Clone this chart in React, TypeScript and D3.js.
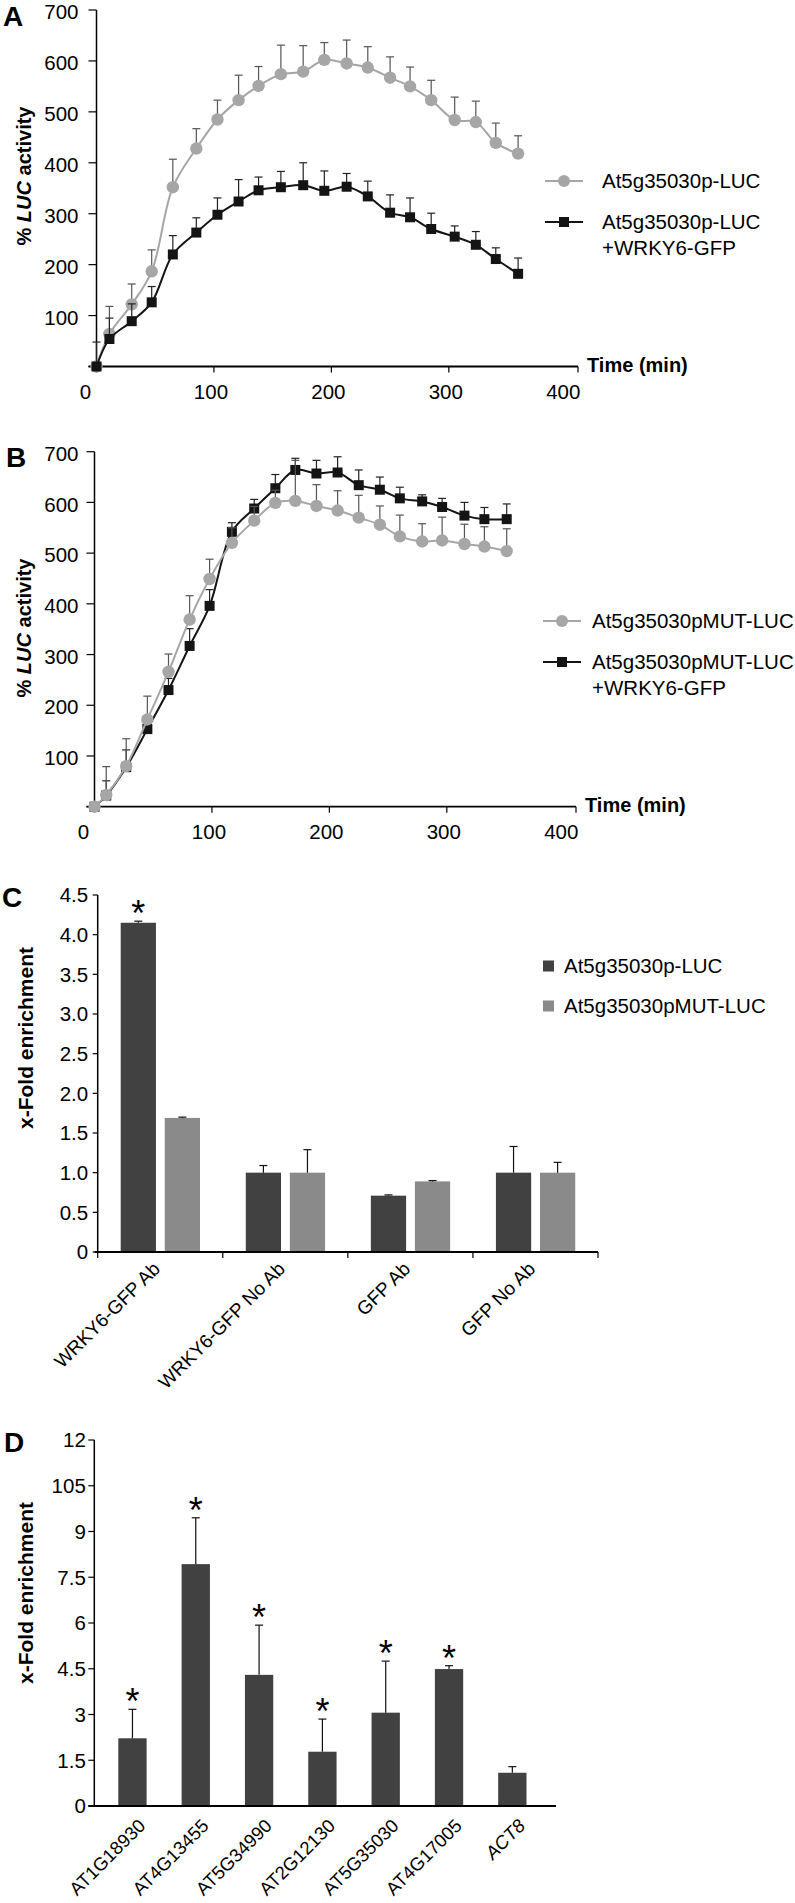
import React from 'react';
import * as d3 from 'd3';

const FONT = "'Liberation Sans', Arial, sans-serif";

// ---------- Panel A data ----------
const timesA = [0, 11, 30, 47, 65, 85, 103, 121, 138, 157, 176, 194, 213, 231, 250, 267, 285, 305, 323, 340, 359];
const wtA = [0, 64, 122, 187, 352, 428, 485, 523, 551, 574, 579, 602, 595, 587, 567, 550, 523, 484, 480, 439, 418];
const wtAerr = [0, 54, 40, 42, 55, 39, 38, 49, 38, 57, 51, 34, 46, 41, 41, 38, 39, 45, 41, 39, 35];
const wrkyA = [0, 54, 89, 126, 220, 263, 298, 324, 346, 352, 356, 345, 353, 334, 302, 293, 270, 255, 239, 211, 182];
const wrkyAerr = [48, 41, 34, 31, 37, 29, 33, 43, 26, 31, 44, 39, 26, 30, 35, 38, 31, 21, 26, 22, 31];

// ---------- Panel B data ----------
const timesB = [0, 10, 27, 45, 63, 81, 98, 117, 136, 154, 171, 189, 207, 225, 243, 260, 279, 296, 315, 332, 351];
const mutB = [0, 23, 80, 172, 266, 369, 449, 520, 564, 599, 603, 593, 584, 570, 556, 533, 523, 525, 518, 513, 504];
const mutBerr = [0, 56, 54, 46, 35, 47, 39, 30, 28, 25, 80, 42, 39, 44, 37, 42, 35, 46, 39, 39, 44];
const wrkyB = [0, 22, 78, 153, 230, 317, 396, 542, 588, 628, 664, 657, 659, 634, 625, 608, 602, 591, 574, 567, 567];
const wrkyBerr = [0, 29, 34, 22, 23, 34, 32, 18, 18, 27, 23, 26, 31, 30, 25, 22, 13, 17, 26, 23, 30];

const timeTicks = [0, 100, 200, 300, 400];
const lucTicks = [0, 100, 200, 300, 400, 500, 600, 700];

// ---------- Panel C data ----------
const groupsC = ['WRKY6-GFP Ab', 'WRKY6-GFP No Ab', 'GFP Ab', 'GFP No Ab'];
const seriesC = ['At5g35030p-LUC', 'At5g35030pMUT-LUC'];
const wtC = [4.15, 1.0, 0.71, 1.0];
const wtCerr = [0.02, 0.09, 0.01, 0.33];
const mutC = [1.69, 1.0, 0.89, 1.0];
const mutCerr = [0.01, 0.29, 0.01, 0.13];
const sigC = [true, false, false, false];
const ticksC = [0, 0.5, 1, 1.5, 2, 2.5, 3, 3.5, 4, 4.5];

// ---------- Panel D data ----------
const genesD = ['AT1G18930', 'AT4G13455', 'AT5G34990', 'AT2G12130', 'AT5G35030', 'AT4G17005', 'ACT8'];
const valuesD = [2.22, 7.93, 4.3, 1.78, 3.06, 4.49, 1.09];
const errD = [0.95, 1.52, 1.63, 1.07, 1.69, 0.11, 0.2];
const sigD = [true, true, true, true, true, true, false];
const ticksD = [0, 1.5, 3, 4.5, 6, 7.5, 9, 10.5, 12];
const tickLabelsD = ['0', '1.5', '3', '4.5', '6', '7.5', '9', '105', '12'];

const GRAY = '#a6a6a6';
const BLACK = '#141414';
const DARKBAR = '#414141';
const LIGHTBAR = '#8a8a8a';

type Series = { times: number[]; vals: number[]; errs: number[]; kind: 'circle' | 'square' };

function ErrorBars({ s, x, y, color }: { s: Series; x: any; y: any; color: string }) {
  return (
    <g stroke={color} strokeWidth={1.2}>
      {s.vals.map((v, i) =>
        s.errs[i] > 0 ? (
          <g key={i}>
            <line x1={x(s.times[i])} x2={x(s.times[i])} y1={y(v)} y2={y(v + s.errs[i])} />
            <line x1={x(s.times[i]) - 4} x2={x(s.times[i]) + 4} y1={y(v + s.errs[i])} y2={y(v + s.errs[i])} />
          </g>
        ) : null
      )}
    </g>
  );
}

function SeriesLine({ s, x, y, color }: { s: Series; x: any; y: any; color: string }) {
  const pts = s.vals.map((v, i) => [x(s.times[i]), y(v)] as [number, number]);
  const path = d3.line().curve(d3.curveCatmullRom.alpha(0.5))(pts) || '';
  return (
    <g>
      <path d={path} fill="none" stroke={color} strokeWidth={2} />
      {pts.map((p, i) =>
        s.kind === 'circle' ? (
          <circle key={i} cx={p[0]} cy={p[1]} r={6.2} fill={color} />
        ) : (
          <rect key={i} x={p[0] - 5} y={p[1] - 5} width={10} height={10} fill={color} />
        )
      )}
    </g>
  );
}

function LinePanel(props: {
  letter: string;
  letterPos: [number, number];
  xRange: [number, number];
  yRange: [number, number];
  gray: Series;
  black: Series;
  grayOnTop: boolean;
  legendGray: string;
  legendBlack: string[];
  legendX: number;
  legendTextX: number;
  legendGrayY: number;
  legendBlackY: number;
  yLabelCY: number;
  tickLabelGap: number;
}) {
  const { xRange, yRange } = props;
  const x = d3.scaleLinear().domain([0, 410]).range(xRange);
  const y = d3.scaleLinear().domain([0, 700]).range(yRange);
  const x0 = x(0);
  const y0 = y(0);
  const grayLayer = (
    <g key="g">
      <ErrorBars s={props.gray} x={x} y={y} color="#555" />
      <SeriesLine s={props.gray} x={x} y={y} color={GRAY} />
    </g>
  );
  const blackLayer = (
    <g key="b">
      <ErrorBars s={props.black} x={x} y={y} color="#222" />
      <SeriesLine s={props.black} x={x} y={y} color={BLACK} />
    </g>
  );
  const xTickPos = [0, 100, 200, 300, 410];
  return (
    <g fontFamily={FONT}>
      <text x={props.letterPos[0]} y={props.letterPos[1]} fontSize={28} fontWeight="bold">{props.letter}</text>
      <line x1={x0} x2={x0} y1={y(700)} y2={y0 + 5} stroke="#000" strokeWidth={1.5} />
      <line x1={x0 - 8} x2={x(410)} y1={y0} y2={y0} stroke="#000" strokeWidth={1.8} />
      {lucTicks.map((t) => (
        <g key={t}>
          <line x1={x0 - 8} x2={x0} y1={y(t)} y2={y(t)} stroke="#000" strokeWidth={1.2} />
          {t > 0 && (
            <text x={x0 - props.tickLabelGap} y={y(t)} dy="0.45em" textAnchor="end" fontSize={20.5}>{t}</text>
          )}
        </g>
      ))}
      {xTickPos.map((t) => (
        <line key={t} x1={x(t)} x2={x(t)} y1={y0} y2={y0 + 6} stroke="#000" strokeWidth={1.2} />
      ))}
      {timeTicks.map((t) => (
        <text key={t} x={t === 0 ? x(t) - 11 : x(t) - 3} y={y0 + 32} textAnchor="middle" fontSize={20.5}>{t}</text>
      ))}
      <text x={x(410) + 9} y={y0 + 5} fontSize={20} fontWeight="bold">Time (min)</text>
      <text transform={`translate(31,${props.yLabelCY}) rotate(-90)`} textAnchor="middle" fontSize={20} fontWeight="bold">
        % <tspan fontStyle="italic">LUC</tspan> activity
      </text>
      {props.grayOnTop ? [blackLayer, grayLayer] : [grayLayer, blackLayer]}
      <line x1={props.legendX} x2={props.legendX + 38} y1={props.legendGrayY} y2={props.legendGrayY} stroke={GRAY} strokeWidth={2} />
      <circle cx={props.legendX + 19} cy={props.legendGrayY} r={6} fill={GRAY} />
      <text x={props.legendTextX} y={props.legendGrayY} dy="0.36em" fontSize={20.5}>{props.legendGray}</text>
      <line x1={props.legendX} x2={props.legendX + 38} y1={props.legendBlackY} y2={props.legendBlackY} stroke={BLACK} strokeWidth={2} />
      <rect x={props.legendX + 14} y={props.legendBlackY - 5} width={10} height={10} fill={BLACK} />
      {props.legendBlack.map((l, i) => (
        <text key={i} x={props.legendTextX} y={props.legendBlackY + i * 25.5} dy="0.36em" fontSize={20.5}>{l}</text>
      ))}
    </g>
  );
}

function Asterisk({ x, yTop }: { x: number; yTop: number }) {
  const fs = 36;
  return (
    <text x={x} y={yTop - 15 + 0.56 * fs} textAnchor="middle" fontSize={fs} fontFamily={FONT}>*</text>
  );
}

function PanelC() {
  const x = d3.scaleBand<string>().domain(groupsC).range([97.7, 598]);
  const inner = d3.scaleBand<string>().domain(seriesC).range([23, 102.3]).paddingInner(0.2);
  const y = d3.scaleLinear().domain([0, 4.5]).range([1252, 895]);
  const x0 = 97.7;
  const y0 = y(0);
  const bw = inner.bandwidth();
  const data = [
    { key: seriesC[0], vals: wtC, errs: wtCerr, color: DARKBAR },
    { key: seriesC[1], vals: mutC, errs: mutCerr, color: LIGHTBAR },
  ];
  return (
    <g fontFamily={FONT}>
      <text x={2} y={907} fontSize={28} fontWeight="bold">C</text>
      {data.map((s) =>
        groupsC.map((g, i) => {
          const bx = (x(g) as number) + (inner(s.key) as number);
          const cx = bx + bw / 2;
          return (
            <g key={s.key + g}>
              <rect x={bx} y={y(s.vals[i])} width={bw} height={y0 - y(s.vals[i])} fill={s.color} />
              <line x1={cx} x2={cx} y1={y(s.vals[i])} y2={y(s.vals[i] + s.errs[i])} stroke="#111" strokeWidth={1.2} />
              <line x1={cx - 4} x2={cx + 4} y1={y(s.vals[i] + s.errs[i])} y2={y(s.vals[i] + s.errs[i])} stroke="#111" strokeWidth={1.2} />
              {s.key === seriesC[0] && sigC[i] && <Asterisk x={cx} yTop={y(s.vals[i] + s.errs[i])} />}
            </g>
          );
        })
      )}
      <line x1={x0} x2={x0} y1={y(4.5)} y2={y0} stroke="#000" strokeWidth={1.5} />
      <line x1={x0 - 3} x2={598} y1={y0} y2={y0} stroke="#000" strokeWidth={1.8} />
      {ticksC.map((t) => (
        <g key={t}>
          <line x1={x0 - 5} x2={x0} y1={y(t)} y2={y(t)} stroke="#000" strokeWidth={1.2} />
          <text x={x0 - 9.5} y={y(t)} dy="0.36em" textAnchor="end" fontSize={20.5}>{t === 0 ? '0' : t.toFixed(1)}</text>
        </g>
      ))}
      {groupsC.concat(['end']).map((g, i) => {
        const tx = 97.7 + i * x.step();
        return <line key={g} x1={tx} x2={tx} y1={y0} y2={y0 + 6} stroke="#000" strokeWidth={1.2} />;
      })}
      {groupsC.map((g) => {
        const cx = (x(g) as number) + x.bandwidth() / 2;
        return (
          <text key={g} transform={`translate(${cx + 1},${y0 + 18}) rotate(-45)`} textAnchor="end" fontSize={19}>{g}</text>
        );
      })}
      <text transform={`translate(33,1038) rotate(-90)`} textAnchor="middle" fontSize={21} fontWeight="bold">x-Fold enrichment</text>
      {data.map((s, i) => (
        <g key={s.key}>
          <rect x={543} y={966 + i * 40 - 5.5} width={11} height={11} fill={s.color} />
          <text x={564} y={966 + i * 40} dy="0.36em" fontSize={20.5}>{s.key}</text>
        </g>
      ))}
    </g>
  );
}

function PanelD() {
  const x = d3.scaleBand<string>().domain(genesD).range([100.8, 544]).paddingInner(0.553).paddingOuter(0.2765);
  const y = d3.scaleLinear().domain([0, 12]).range([1806, 1440]);
  const x0 = 94.3;
  const y0 = y(0);
  const bw = x.bandwidth();
  return (
    <g fontFamily={FONT}>
      <text x={4} y={1452} fontSize={28} fontWeight="bold">D</text>
      {genesD.map((g, i) => {
        const bx = x(g) as number;
        const cx = bx + bw / 2;
        const top = y(valuesD[i] + errD[i]);
        return (
          <g key={g}>
            <rect x={bx} y={y(valuesD[i])} width={bw} height={y0 - y(valuesD[i])} fill={DARKBAR} />
            <line x1={cx} x2={cx} y1={y(valuesD[i])} y2={top} stroke="#111" strokeWidth={1.2} />
            <line x1={cx - 4} x2={cx + 4} y1={top} y2={top} stroke="#111" strokeWidth={1.2} />
            {sigD[i] && <Asterisk x={cx} yTop={top} />}
            <text transform={`translate(${cx + 14},${y0 + 21}) rotate(-45)`} textAnchor="end" fontSize={18.5} fontStyle={g === 'ACT8' ? 'italic' : 'normal'}>{g}</text>
          </g>
        );
      })}
      <line x1={x0} x2={x0} y1={y(12)} y2={y0} stroke="#000" strokeWidth={1.5} />
      <line x1={x0 - 6} x2={556} y1={y0} y2={y0} stroke="#000" strokeWidth={1.8} />
      {ticksD.map((t, i) => (
        <g key={t}>
          <line x1={x0 - 6} x2={x0} y1={y(t)} y2={y(t)} stroke="#000" strokeWidth={1.2} />
          <text x={x0 - 8.5} y={y(t)} dy="0.36em" textAnchor="end" fontSize={20.5}>{tickLabelsD[i]}</text>
        </g>
      ))}
      <text transform={`translate(33,1593) rotate(-90)`} textAnchor="middle" fontSize={21} fontWeight="bold">x-Fold enrichment</text>
    </g>
  );
}

export default function App() {
  return (
    <svg width={795} height={1903} style={{ position: 'absolute', left: 0, top: 0, background: '#fff' }}>
      <rect width={795} height={1903} fill="#fff" />
      <LinePanel
        letter="A"
        letterPos={[3, 26]}
        xRange={[96.5, 578]}
        yRange={[366.5, 10]}
        gray={{ times: timesA, vals: wtA, errs: wtAerr, kind: 'circle' }}
        black={{ times: timesA, vals: wrkyA, errs: wrkyAerr, kind: 'square' }}
        grayOnTop={false}
        legendGray="At5g35030p-LUC"
        legendBlack={['At5g35030p-LUC', '+WRKY6-GFP']}
        legendX={545}
        legendTextX={602}
        legendGrayY={181}
        legendBlackY={222}
        yLabelCY={176}
        tickLabelGap={18}
      />
      <LinePanel
        letter="B"
        letterPos={[6, 467]}
        xRange={[94.5, 576]}
        yRange={[806.7, 451.7]}
        gray={{ times: timesB, vals: mutB, errs: mutBerr, kind: 'circle' }}
        black={{ times: timesB, vals: wrkyB, errs: wrkyBerr, kind: 'square' }}
        grayOnTop={true}
        legendGray="At5g35030pMUT-LUC"
        legendBlack={['At5g35030pMUT-LUC', '+WRKY6-GFP']}
        legendX={543}
        legendTextX={592}
        legendGrayY={621}
        legendBlackY={662}
        yLabelCY={628}
        tickLabelGap={16}
      />
      <PanelC />
      <PanelD />
    </svg>
  );
}
